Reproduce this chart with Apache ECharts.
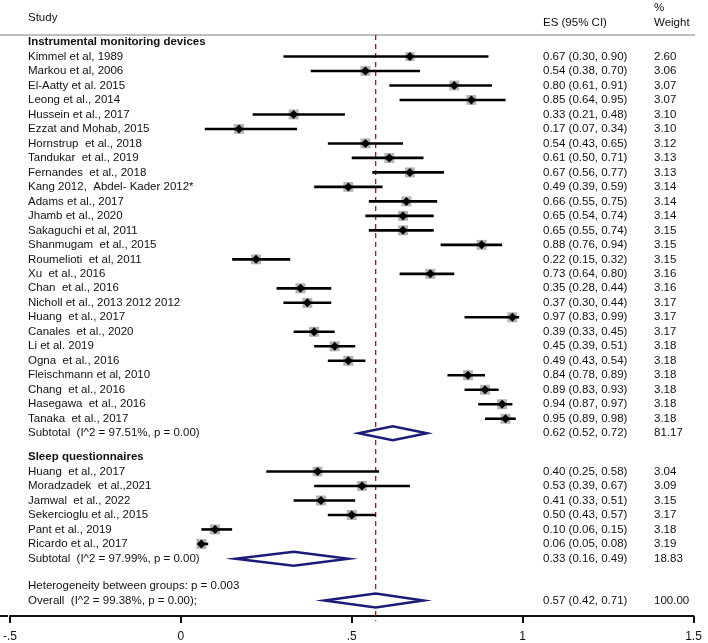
<!DOCTYPE html>
<html><head><meta charset="utf-8">
<script src="https://cdn.jsdelivr.net/npm/echarts@6/dist/echarts.min.js"></script>
<style>html,body{margin:0;padding:0;background:#fff}#c{width:708px;height:643px}</style>
</head><body><div id="c"></div>
<script>
// ---------- data ----------
const group1Name = 'Instrumental monitoring devices';
const group1Studies = ['Kimmel et al, 1989','Markou et al, 2006','El-Aatty et al. 2015','Leong et al., 2014','Hussein et al., 2017','Ezzat and Mohab, 2015','Hornstrup  et al., 2018','Tandukar  et al., 2019','Fernandes  et al., 2018','Kang 2012,  Abdel- Kader 2012*','Adams et al., 2017','Jhamb et al., 2020','Sakaguchi et al, 2011','Shanmugam  et al., 2015','Roumelioti  et al, 2011','Xu  et al., 2016','Chan  et al., 2016','Nicholl et al., 2013 2012 2012','Huang  et al., 2017','Canales  et al., 2020','Li et al. 2019','Ogna  et al., 2016','Fleischmann et al, 2010','Chang  et al., 2016','Hasegawa  et al., 2016','Tanaka  et al., 2017'];
const group1ES     = [0.67,0.54,0.80,0.85,0.33,0.17,0.54,0.61,0.67,0.49,0.66,0.65,0.65,0.88,0.22,0.73,0.35,0.37,0.97,0.39,0.45,0.49,0.84,0.89,0.94,0.95];
const group1Low    = [0.30,0.38,0.61,0.64,0.21,0.07,0.43,0.50,0.56,0.39,0.55,0.54,0.55,0.76,0.15,0.64,0.28,0.30,0.83,0.33,0.39,0.43,0.78,0.83,0.87,0.89];
const group1High   = [0.90,0.70,0.91,0.95,0.48,0.34,0.65,0.71,0.77,0.59,0.75,0.74,0.74,0.94,0.32,0.80,0.44,0.44,0.99,0.45,0.51,0.54,0.89,0.93,0.97,0.98];
const group1Weight = [2.60,3.06,3.07,3.07,3.10,3.10,3.12,3.13,3.13,3.14,3.14,3.14,3.15,3.15,3.15,3.16,3.16,3.17,3.17,3.17,3.18,3.18,3.18,3.18,3.18,3.18];
const group1SubtotalLabel = 'Subtotal  (I^2 = 97.51%, p = 0.00)';
const group1Subtotal = [0.62, 0.52, 0.72, 81.17]; // ES, low, high, weight

const group2Name = 'Sleep questionnaires';
const group2Studies = ['Huang  et al., 2017','Moradzadek  et al.,2021','Jamwal  et al., 2022','Sekercioglu et al., 2015','Pant et al., 2019','Ricardo et al., 2017'];
const group2ES     = [0.40,0.53,0.41,0.50,0.10,0.06];
const group2Low    = [0.25,0.39,0.33,0.43,0.06,0.05];
const group2High   = [0.58,0.67,0.51,0.57,0.15,0.08];
const group2Weight = [3.04,3.09,3.15,3.17,3.18,3.19];
const group2SubtotalLabel = 'Subtotal  (I^2 = 97.99%, p = 0.00)';
const group2Subtotal = [0.33, 0.16, 0.49, 18.83];

const heterogeneityLabel = 'Heterogeneity between groups: p = 0.003';
const overallLabel = 'Overall  (I^2 = 99.38%, p = 0.00);';
const overall = [0.57, 0.42, 0.71, 100.00];

const xTickValues = [-0.5, 0, 0.5, 1, 1.5];
const xTickLabels = ['-.5', '0', '.5', '1', '1.5'];

// ---------- layout (row positions) ----------
const rows = [];
rows.push({type:'header', text:group1Name, pos:0});
group1Studies.forEach((s,i)=>rows.push({type:'study', text:s, es:group1ES[i], lo:group1Low[i], hi:group1High[i], w:group1Weight[i], pos:1+i}));
rows.push({type:'subtotal', text:group1SubtotalLabel, es:group1Subtotal[0], lo:group1Subtotal[1], hi:group1Subtotal[2], w:group1Subtotal[3], pos:27});
rows.push({type:'header', text:group2Name, pos:28.62});
group2Studies.forEach((s,i)=>rows.push({type:'study', text:s, es:group2ES[i], lo:group2Low[i], hi:group2High[i], w:group2Weight[i], pos:29.64+i}));
rows.push({type:'subtotal', text:group2SubtotalLabel, es:group2Subtotal[0], lo:group2Subtotal[1], hi:group2Subtotal[2], w:group2Subtotal[3], pos:35.66});
rows.push({type:'note', text:heterogeneityLabel, pos:37.5});
rows.push({type:'subtotal', text:overallLabel, es:overall[0], lo:overall[1], hi:overall[2], w:overall[3], pos:38.55});

const FONT = '"Liberation Sans", Arial, sans-serif';
const FS = 11.5;
const TXT = '#111';
const COL_LABEL = 28, COL_ES = 543, COL_W = 654;
const f2 = v => v.toFixed(2);

function txt(x, y, s, bold) {
  return {type:'text', x:x, y:y, style:{text:s, fill:TXT, font:(bold?'bold ':'')+FS+'px '+FONT, textAlign:'left', textVerticalAlign:'middle'}};
}

const chart = echarts.init(document.getElementById('c'), null, {renderer:'canvas'});
chart.setOption({
  animation:false,
  backgroundColor:'#fff',
  grid:{left:7.5, right:14.5, top:35, bottom:27, containLabel:false},
  xAxis:{type:'value', position:'bottom', min:-0.5, max:1.5, interval:0.5,
    axisLine:{show:true, onZero:false, lineStyle:{color:'#111', width:2}},
    axisTick:{show:true, length:7, lineStyle:{color:'#111', width:2}},
    axisLabel:{show:true, margin:15, fontSize:12, fontFamily:FONT, color:TXT,
      formatter:v=>{const i=xTickValues.findIndex(t=>Math.abs(t-v)<1e-9); return i>=0?xTickLabels[i]:'';}},
    splitLine:{show:false}},
  yAxis:{type:'value', inverse:true, min:-0.4831, max:39.614, show:false},
  graphic:[
    {type:'line', shape:{x1:0,y1:35,x2:695,y2:35}, style:{stroke:'#a8a8a8', lineWidth:1.5}, z:1},
    {type:'line', shape:{x1:0,y1:616,x2:8,y2:616}, style:{stroke:'#111', lineWidth:2}, z:1},
    {type:'text', x:COL_LABEL, y:18, style:{text:'Study', fill:TXT, font:FS+'px '+FONT, textVerticalAlign:'middle'}},
    {type:'text', x:COL_ES, y:23, style:{text:'ES (95% CI)', fill:TXT, font:FS+'px '+FONT, textVerticalAlign:'middle'}},
    {type:'text', x:COL_W, y:8, style:{text:'%', fill:TXT, font:FS+'px '+FONT, textVerticalAlign:'middle'}},
    {type:'text', x:COL_W, y:23, style:{text:'Weight', fill:TXT, font:FS+'px '+FONT, textVerticalAlign:'middle'}}
  ],
  series:[
    {type:'custom', z:1, clip:false, data:[[overall[0], 0]],
      renderItem:(params, api)=>{
        const x = api.coord([api.value(0), 0])[0];
        return {type:'line', shape:{x1:x, y1:35, x2:x, y2:621}, style:{stroke:'#8b1f1f', lineWidth:1.3, lineDash:[5,4]}};
      }},
    {type:'custom', z:2, clip:false,
      data: rows.map(r=>[r.es==null?0:r.es, r.pos]),
      encode:{x:0, y:1},
      renderItem:(params, api)=>{
        const r = rows[params.dataIndex];
        const y = api.coord([0, r.pos])[1];
        const ch = [];
        if (r.type==='header') {
          ch.push(txt(COL_LABEL, y, r.text, true));
        } else if (r.type==='note') {
          ch.push(txt(COL_LABEL, y, r.text, false));
        } else {
          const xe = api.coord([r.es, r.pos])[0];
          const xl = api.coord([r.lo, r.pos])[0];
          const xh = api.coord([r.hi, r.pos])[0];
          ch.push(txt(COL_LABEL, y, r.text, false));
          ch.push(txt(COL_ES, y, f2(r.es)+' ('+f2(r.lo)+', '+f2(r.hi)+')', false));
          ch.push(txt(COL_W, y, f2(r.w), false));
          if (r.type==='study') {
            const s = 10*Math.sqrt(r.w/3.18);
            ch.push({type:'rect', shape:{x:xe-s/2, y:y-s/2, width:s, height:s}, style:{fill:'#b3b3b3'}});
            ch.push({type:'line', shape:{x1:xl, y1:y, x2:xh, y2:y}, style:{stroke:'#000', lineWidth:2.6}});
            ch.push({type:'polygon', shape:{points:[[xe-4.5,y],[xe,y-4.5],[xe+4.5,y],[xe,y+4.5]]}, style:{fill:'#000'}});
          } else {
            ch.push({type:'polygon', shape:{points:[[xl,y],[xe,y-7],[xh,y],[xe,y+7]]}, style:{fill:'#fff', stroke:'#1c1c78', lineWidth:2.5, lineJoin:'miter'}});
          }
        }
        return {type:'group', children:ch};
      }}
  ]
});
</script></body></html>
